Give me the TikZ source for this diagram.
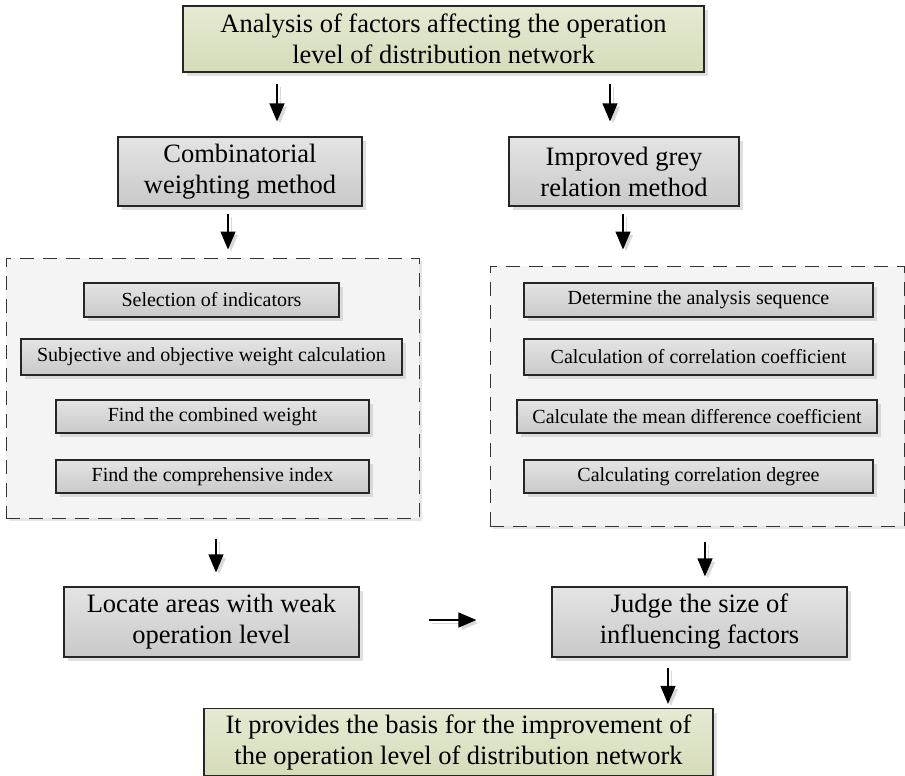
\documentclass[tikz,border=0pt]{standalone}
\usepackage{fontspec}
\setmainfont{Liberation Serif}
\usetikzlibrary{arrows.meta,shadows}

\definecolor{greenTop}{HTML}{E5EAD2}
\definecolor{greenBot}{HTML}{D5DCB9}
\definecolor{greyTop}{HTML}{E4E4E4}
\definecolor{greyBot}{HTML}{C9C9C9}
\definecolor{regionFill}{HTML}{F4F4F4}

\begin{document}
\begin{tikzpicture}[x=1pt, y=-1pt,
    bigbox/.style={draw=black!85, line width=1.2pt, align=center, inner sep=0pt,
        font=\fontsize{26.5}{31}\selectfont, top color=greyTop, bottom color=greyBot,
        drop shadow={shadow xshift=4pt, shadow yshift=-4pt, fill=black!25, opacity=.5}},
    greenbox/.style={bigbox, top color=greenTop, bottom color=greenBot},
    smallbox/.style={bigbox, font=\fontsize{20}{24}\selectfont},
    region/.style={draw=black!80, line width=1pt, dash pattern=on 14pt off 9pt,
        fill=regionFill, inner sep=0pt,
        drop shadow={shadow xshift=3pt, shadow yshift=-3pt, fill=black!20, opacity=.5}},
    arr/.style={-{Triangle[length=18pt,width=15pt]}, line width=1.3pt,
        preaction={draw=black!15, transform canvas={shift={(3pt,-3pt)}}}}]
    \useasboundingbox (0,0) rectangle (905,776);

    % Head and foot of the chart
    \node[greenbox, minimum width=521pt, minimum height=66pt] (top) at (443.5,39)
        {Analysis of factors affecting the operation\\level of distribution network};
    \node[greenbox, minimum width=509pt, minimum height=67pt] (basis) at (458.5,742)
        {It provides the basis for the improvement of\\the operation level of distribution network};

    % Two methods
    \node[bigbox, minimum width=244pt, minimum height=69pt] (comb) at (240,171.5)
        {Combinatorial\\weighting method};
    \node[bigbox, minimum width=230pt, minimum height=69pt] (impr) at (624,171.5)
        {Improved grey\\relation method};

    % Dashed regions with their steps
    \node[region, minimum width=413pt, minimum height=260pt] (leftreg) at (212.5,388) {};
    \node[region, minimum width=414pt, minimum height=260pt] (rightreg) at (697,396) {};

    \node[smallbox, minimum width=255pt, minimum height=34pt] (sel) at (211.5,300) {Selection of indicators};
    \node[smallbox, minimum width=381pt, minimum height=36pt] (subj) at (211.5,357) {Subjective and objective weight calculation};
    \node[smallbox, minimum width=313pt, minimum height=33pt] (comw) at (212.5,416.5) {Find the combined weight};
    \node[smallbox, minimum width=313pt, minimum height=33pt] (compi) at (212.5,476.5) {Find the comprehensive index};

    \node[smallbox, minimum width=349pt, minimum height=34pt] (det) at (698.5,300) {Determine the analysis sequence};
    \node[smallbox, minimum width=349pt, minimum height=36pt] (calc) at (698.5,357) {Calculation of correlation coefficient};
    \node[smallbox, minimum width=360pt, minimum height=33pt] (mean) at (697,416.5) {Calculate the mean difference coefficient};
    \node[smallbox, minimum width=349pt, minimum height=33pt] (degr) at (698.5,476.5) {Calculating correlation degree};

    % Results
    \node[bigbox, minimum width=295pt, minimum height=70pt] (locate) at (211.5,622)
        {Locate areas with weak\\operation level};
    \node[bigbox, minimum width=295pt, minimum height=70pt] (judge) at (699.5,622)
        {Judge the size of\\influencing factors};

    % Arrows (they stop short of the boxes)
    \draw[arr, shorten <=11pt, shorten >=15pt] (top.south -| 277,0) -- (comb.north -| 277,0);
    \draw[arr, shorten <=11pt, shorten >=15pt] (top.south -| 610,0) -- (impr.north -| 610,0);
    \draw[arr, shorten <=7pt, shorten >=8pt] (comb.south -| 228,0) -- (leftreg.north -| 228,0);
    \draw[arr, shorten <=7pt, shorten >=16pt] (impr.south -| 623,0) -- (rightreg.north -| 623,0);
    \draw[arr, shorten <=20pt, shorten >=14pt] (leftreg.south -| 216,0) -- (locate.north -| 216,0);
    \draw[arr, shorten <=15pt, shorten >=10pt] (rightreg.south -| 705,0) -- (judge.north -| 705,0);
    \draw[arr, shorten <=69pt, shorten >=75pt] (locate.east |- 0,620) -- (judge.west |- 0,620);
    \draw[arr, shorten <=10pt, shorten >=4pt] (judge.south -| 668,0) -- (basis.north -| 668,0);
\end{tikzpicture}
\end{document}
